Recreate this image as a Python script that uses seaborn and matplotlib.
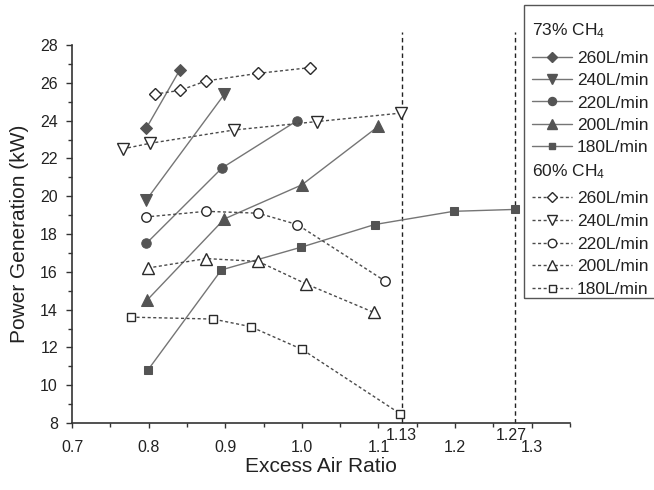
import matplotlib
matplotlib.use("Agg")
import matplotlib.pyplot as plt
from matplotlib.lines import Line2D
from matplotlib.patches import Rectangle
import seaborn as sns
import pandas as pd

sns.set_style("ticks")
plt.rcParams['font.family'] = ['Liberation Sans', 'DejaVu Sans']
plt.rcParams['mathtext.fontset'] = 'custom'
plt.rcParams['mathtext.rm'] = 'Liberation Sans'
plt.rcParams['mathtext.it'] = 'Liberation Sans:italic'

# ---- data ----
flows = ["260L/min", "240L/min", "220L/min", "200L/min", "180L/min"]

x73_260 = [0.797, 0.841]
y73_260 = [23.6, 26.7]
x73_240 = [0.797, 0.899]
y73_240 = [19.8, 25.4]
x73_220 = [0.797, 0.896, 0.994]
y73_220 = [17.5, 21.5, 24.0]
x73_200 = [0.798, 0.899, 1.000, 1.100]
y73_200 = [14.5, 18.8, 20.6, 23.7]
x73_180 = [0.799, 0.895, 0.999, 1.095, 1.198, 1.278]
y73_180 = [10.8, 16.1, 17.3, 18.5, 19.2, 19.3]

x60_260 = [0.808, 0.841, 0.875, 0.943, 1.010]
y60_260 = [25.4, 25.6, 26.1, 26.5, 26.8]
x60_240 = [0.766, 0.802, 0.911, 1.020, 1.13]
y60_240 = [22.5, 22.8, 23.5, 23.95, 24.4]
x60_220 = [0.796, 0.875, 0.943, 0.994, 1.109]
y60_220 = [18.9, 19.2, 19.1, 18.5, 15.5]
x60_200 = [0.799, 0.875, 0.943, 1.006, 1.094]
y60_200 = [16.2, 16.7, 16.55, 15.35, 13.85]
x60_180 = [0.777, 0.884, 0.933, 1.000, 1.128]
y60_180 = [13.6, 13.5, 13.1, 11.9, 8.5]

ref_lines = [1.131, 1.278]
ref_label_pos = [1.13, 1.273]
ref_labels = ["1.13", "1.27"]
xticks = [0.7, 0.8, 0.9, 1.0, 1.1, 1.2, 1.3]
xtick_labels = ["0.7", "0.8", "0.9", "1.0", "1.1", "1.2", "1.3"]
yticks = [8, 10, 12, 14, 16, 18, 20, 22, 24, 26, 28]

series73 = [(x73_260, y73_260), (x73_240, y73_240), (x73_220, y73_220),
            (x73_200, y73_200), (x73_180, y73_180)]
series60 = [(x60_260, y60_260), (x60_240, y60_240), (x60_220, y60_220),
            (x60_200, y60_200), (x60_180, y60_180)]

markers = ['D', 'v', 'o', '^', 's']
msizes = [6.2, 8.0, 6.8, 8.0, 5.6]

fill_c = '#545454'
line73_c = '#757575'
edge60_c = '#2a2a2a'
line60_c = '#4a4a4a'
dash60 = (0, (2.2, 1.8))

fig = plt.figure(figsize=(6.54, 4.90), dpi=100)
ax = fig.add_axes([72/654, 1-423/490, (570-72)/654, (423-45)/490])

for (xs, ys), m, ms in zip(series73, markers, msizes):
    df = pd.DataFrame({"x": xs, "y": ys})
    sns.lineplot(data=df, x="x", y="y", ax=ax, estimator=None, sort=False,
                 color=line73_c, lw=1.0, marker=m, markersize=ms,
                 markerfacecolor=fill_c, markeredgecolor=fill_c, zorder=3)

for (xs, ys), m, ms in zip(series60, markers, msizes):
    df = pd.DataFrame({"x": xs, "y": ys})
    sns.lineplot(data=df, x="x", y="y", ax=ax, estimator=None, sort=False,
                 color=line60_c, lw=1.0, linestyle=dash60, marker=m, markersize=ms,
                 markerfacecolor='white', markeredgecolor=edge60_c,
                 markeredgewidth=1.0, zorder=4)

ax.vlines(ref_lines, 8, 28.7, colors='#222222', linestyles=(0, (3.2, 2.4)),
          lw=1.0, clip_on=False, zorder=2)

ax.set_xlim(0.7, 1.35)
ax.set_ylim(8, 28)
ax.set_xticks(xticks)
ax.set_xticklabels(xtick_labels)
ax.set_xticks([0.75, 0.85, 0.95, 1.05, 1.15, 1.25, 1.35], minor=True)
ax.set_yticks(yticks)
ax.set_yticks(list(range(9, 28, 2)), minor=True)
for s in ['top', 'right']:
    ax.spines[s].set_visible(False)
for s in ['left', 'bottom']:
    ax.spines[s].set_color('#333333')
    ax.spines[s].set_linewidth(1.2)
ax.tick_params(axis='x', which='major', direction='out', length=3.8, width=1.0,
               pad=8.5, labelsize=11.5, colors='#333333', labelcolor='#222222')
ax.tick_params(axis='x', which='minor', direction='out', length=3.0, width=1.0,
               colors='#333333')
ax.tick_params(axis='y', which='major', direction='out', length=4.6, width=1.0,
               pad=5.5, labelsize=11.5, colors='#333333', labelcolor='#222222')
ax.tick_params(axis='y', which='minor', direction='out', length=3.0, width=1.0,
               colors='#333333')

for xv, lab in zip(ref_label_pos, ref_labels):
    ax.annotate(lab, xy=(xv, 0), xycoords=('data', 'axes fraction'),
                xytext=(0, -3.8), textcoords='offset points',
                ha='center', va='top', fontsize=11.5, color='#222222',
                annotation_clip=False)

ax.set_xlabel("Excess Air Ratio", fontsize=15, labelpad=1.5, color='#222222')
ax.set_ylabel("Power Generation (kW)", fontsize=15, labelpad=8, color='#222222')

# ---- legend (manual, figure pixel coordinates) ----
def fx(px):
    return px / 654

def fy(py):
    return 1 - py / 490

fig.add_artist(Rectangle((fx(524), fy(298)), fx(140), 293/490, transform=fig.transFigure,
                         fill=False, edgecolor='#555555', lw=1.0, clip_on=False))

leg_fs = 12.5
cap_half = 6.3
fig.text(fx(532), fy(28.5 + cap_half), "73% CH$_4$", fontsize=leg_fs,
         va='baseline', ha='left', color='#222222')
fig.text(fx(532), fy(170 + cap_half), "60% CH$_4$", fontsize=leg_fs,
         va='baseline', ha='left', color='#222222')

rows73 = [56.7, 79, 101.3, 123.6, 146]
rows60 = [197, 220, 242.5, 265, 288]
for i in range(5):
    yc = rows73[i]
    fig.add_artist(Line2D([fx(532), fx(572)], [fy(yc), fy(yc)], transform=fig.transFigure,
                          color=line73_c, lw=1.0))
    fig.add_artist(Line2D([fx(552)], [fy(yc)], transform=fig.transFigure, lw=0,
                          marker=markers[i], markersize=msizes[i] * 0.85,
                          markerfacecolor=fill_c, markeredgecolor=fill_c))
    fig.text(fx(577), fy(yc + cap_half), flows[i], fontsize=leg_fs, va='baseline',
             ha='left', color='#222222')
    yc = rows60[i]
    fig.add_artist(Line2D([fx(532), fx(572)], [fy(yc), fy(yc)], transform=fig.transFigure,
                          color=line60_c, lw=1.0, linestyle=dash60))
    fig.add_artist(Line2D([fx(552)], [fy(yc)], transform=fig.transFigure, lw=0,
                          marker=markers[i], markersize=msizes[i] * 0.9,
                          markerfacecolor='white', markeredgecolor=edge60_c,
                          markeredgewidth=1.0))
    fig.text(fx(577), fy(yc + cap_half), flows[i], fontsize=leg_fs, va='baseline',
             ha='left', color='#222222')

fig.savefig("out.png", dpi=100)
